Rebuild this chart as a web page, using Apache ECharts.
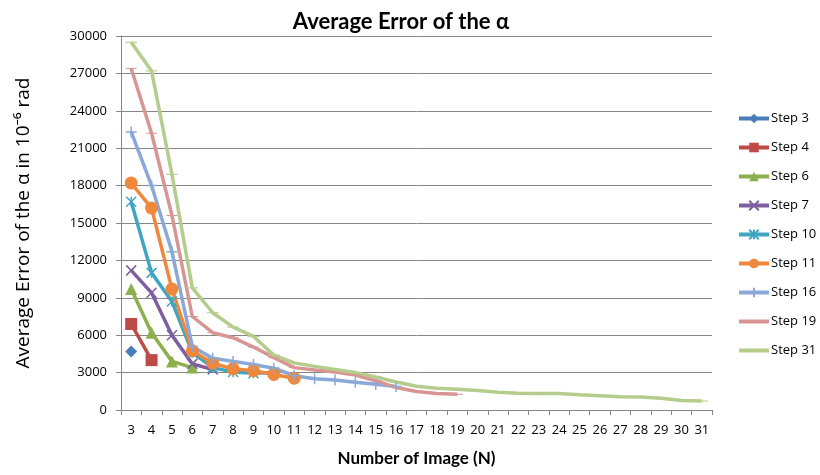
<!DOCTYPE html>
<html>
<head>
<meta charset="utf-8">
<script src="https://cdn.jsdelivr.net/npm/echarts@6/dist/echarts.min.js"></script>
<style>
  html, body { margin: 0; padding: 0; background: #fff; }
  #main { width: 820px; height: 475px; }
</style>
</head>
<body>
<div id="main"></div>
<script>
// categories: number of images
const imageCounts = ['3', '4', '5', '6', '7', '8', '9', '10', '11', '12', '13', '14', '15', '16', '17',
  '18', '19', '20', '21', '22', '23', '24', '25', '26', '27', '28', '29', '30', '31']
const yTicks = [0, 3000, 6000, 9000, 12000, 15000, 18000, 21000, 24000, 27000, 30000]

// average error per step (starting at N = 3)
const step3 = [4700]
const step4 = [6900, 4000]
const step6 = [9700, 6200, 3900, 3400]
const step7 = [11200, 9400, 6000, 3700, 3250]
const step10 = [16700, 11000, 8700, 4600, 3400, 3050, 2950, 3000]
const step11 = [18200, 16200, 9700, 4750, 3750, 3300, 3150, 2850, 2550]
const step16 = [22300, 18000, 12700, 5100, 4150, 3900, 3650, 3350, 2750, 2500, 2400, 2230, 2060, 1880]
const step19 = [27400, 22200, 15600, 7500, 6200, 5800, 5050, 4200, 3400, 3200, 3050, 2800, 2350, 1800,
  1480, 1320, 1260]
const step31 = [29500, 27200, 18900, 9800, 7800, 6650, 5900, 4400, 3780, 3500, 3250, 3000, 2650, 2250,
  1900, 1740, 1670, 1560, 1420, 1340, 1330, 1330, 1230, 1150, 1070, 1040, 940, 760, 720]

const xPath = 'path://M0,0 L10,10 M10,0 L0,10'
const starPath = 'path://M0,0 L10,10 M10,0 L0,10 M5,0 L5,10'
const plusPath = 'path://M0,5 L10,5 M5,0 L5,10'
const dashPath = 'path://M0,0 L10,0 L10,3 L0,3 Z'
const legendLine = 'path://M0,0 L30,0 L30,4 L0,4 Z'

const defs = [
  { name: 'Step 3', data: step3, color: '#4A7EBB', symbol: 'diamond', size: 12 },
  { name: 'Step 4', data: step4, color: '#BE4B48', symbol: 'rect', size: 12 },
  { name: 'Step 6', data: step6, color: '#8CB04B', symbol: 'triangle', size: 12 },
  { name: 'Step 7', data: step7, color: '#7D5FA0', symbol: xPath, size: 10, stroke: true },
  { name: 'Step 10', data: step10, color: '#3FA5C0', symbol: starPath, size: 10, stroke: true },
  { name: 'Step 11', data: step11, color: '#F0883C', symbol: 'circle', size: 13 },
  { name: 'Step 16', data: step16, color: '#8AA8D8', symbol: plusPath, size: 11, stroke: true },
  { name: 'Step 19', data: step19, color: '#D99594', symbol: dashPath, size: [11, 3.3], keep: true },
  { name: 'Step 31', data: step31, color: '#B5CD8C', symbol: dashPath, size: [12, 3.6], keep: true }
]

const series = defs.map(d => ({
  name: d.name,
  type: 'line',
  data: d.data,
  symbol: d.symbol,
  symbolSize: d.size,
  symbolKeepAspect: !!d.keep,
  showAllSymbol: true,
  lineStyle: { color: d.color, width: 3.5 },
  itemStyle: d.stroke
    ? { color: d.color, borderColor: d.color, borderWidth: 1.5 }
    : { color: d.color },
  emphasis: { disabled: true },
  animation: false
}))

const chart = echarts.init(document.getElementById('main'))
chart.setOption({
  animation: false,
  textStyle: { fontFamily: 'Open Sans, Noto Sans, sans-serif' },
  title: {
    text: 'Average Error of the α',
    left: 396,
    top: 6,
    textAlign: 'center',
    textStyle: { fontFamily: 'Lato, DejaVu Sans, sans-serif', fontSize: 22, fontWeight: 'bold', color: '#000' }
  },
  legend: {
    orient: 'vertical',
    left: 737,
    top: 112,
    width: 83,
    padding: 0,
    itemWidth: 30,
    itemHeight: 12,
    itemGap: 16,
    lineStyle: { width: 4 },
    textStyle: { fontSize: 13, color: '#000', overflow: 'none', padding: [0, 0, 0, -3] },
    data: defs.map(d => (d.keep ? { name: d.name, icon: legendLine } : d.name))
  },
  grid: { left: 121, right: 108, top: 36, bottom: 65 },
  xAxis: {
    type: 'category',
    data: imageCounts,
    boundaryGap: true,
    name: 'Number of Image (N)',
    nameLocation: 'middle',
    nameGap: 40,
    nameTextStyle: { fontFamily: 'Lato, DejaVu Sans, sans-serif', fontSize: 17, fontWeight: 'bold', color: '#000' },
    axisLine: { lineStyle: { color: '#868686', width: 1 } },
    axisTick: { show: true, length: 5, interval: 0, lineStyle: { color: '#868686' } },
    axisLabel: { interval: 0, fontSize: 13, color: '#000', margin: 14 }
  },
  yAxis: {
    type: 'value',
    min: yTicks[0],
    max: yTicks[yTicks.length - 1],
    interval: yTicks[1] - yTicks[0],
    name: 'Average Error of the α in 10⁻⁶ rad',
    nameLocation: 'middle',
    nameRotate: 90,
    nameGap: 88,
    nameTextStyle: { fontSize: 19, color: '#000' },
    axisLine: { show: true, lineStyle: { color: '#868686', width: 1 } },
    axisTick: { show: true, length: 5, lineStyle: { color: '#868686' } },
    axisLabel: { fontSize: 13, color: '#000', margin: 14, formatter: v => String(v) },
    splitLine: { lineStyle: { color: '#868686', width: 1 } }
  },
  series: series
})
</script>
</body>
</html>
